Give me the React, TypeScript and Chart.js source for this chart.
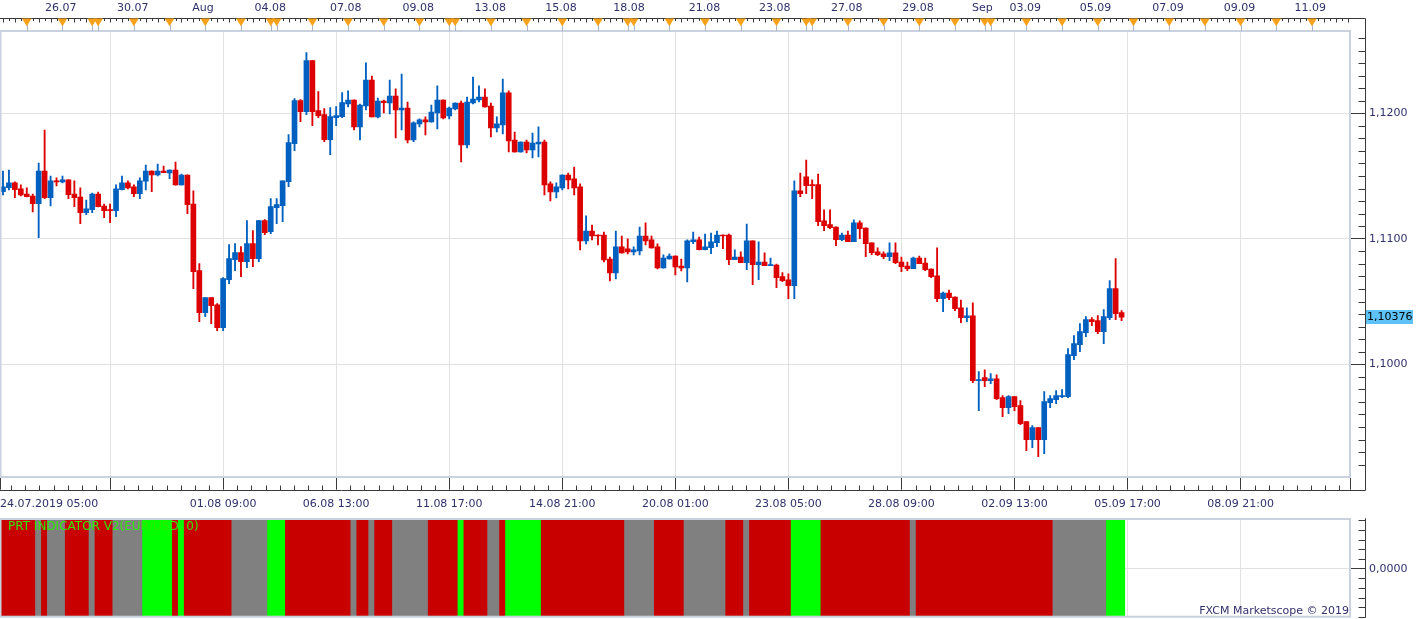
import React, { useEffect, useRef } from 'react';
import { Chart, registerables } from 'chart.js';

Chart.register(...registerables);
const FONT = "'DejaVu Sans', Verdana, sans-serif";
Chart.defaults.font.family = FONT;

// ---------- DATA (EUR/USD, 4h candles from 24.07.2019 05:00) ----------
const opens = [
  1.11376, 1.11408, 1.11445, 1.11397, 1.11357, 1.11341, 1.11280, 1.11540, 1.11328, 1.11461,
  1.11453, 1.11469, 1.11357, 1.11333, 1.11208, 1.11232, 1.11357, 1.11261, 1.11230, 1.11224,
  1.11392, 1.11445, 1.11413, 1.11360, 1.11458, 1.11540, 1.11508, 1.11540, 1.11524, 1.11548,
  1.11429, 1.11508, 1.11277, 1.10746, 1.10412, 1.10531, 1.10473, 1.10292, 1.10674, 1.10834,
  1.10890, 1.10818, 1.10961, 1.10842, 1.11145, 1.11057, 1.11248, 1.11264, 1.11455, 1.11758,
  1.12101, 1.12013, 1.12419, 1.12021, 1.11989, 1.11790, 1.11965, 1.11973, 1.12074, 1.12106,
  1.11891, 1.12058, 1.12265, 1.11971, 1.12098, 1.12082, 1.12138, 1.12026, 1.12042, 1.11787,
  1.11915, 1.11947, 1.11931, 1.12002, 1.12106, 1.11979, 1.12034, 1.12082, 1.11748, 1.12082,
  1.12106, 1.12130, 1.12058, 1.11883, 1.11907, 1.12162, 1.11787, 1.11692, 1.11771, 1.11708,
  1.11755, 1.11771, 1.11437, 1.11373, 1.11405, 1.11508, 1.11477, 1.11413, 1.10983, 1.11062,
  1.11030, 1.11030, 1.10839, 1.10728, 1.10935, 1.10919, 1.10895, 1.10903, 1.11022, 1.10991,
  1.10935, 1.10767, 1.10839, 1.10863, 1.10783, 1.10767, 1.10977, 1.10991, 1.10913, 1.10929,
  1.10969, 1.11030, 1.11030, 1.10834, 1.10855, 1.10810, 1.10983, 1.10794, 1.10815, 1.10786,
  1.10791, 1.10698, 1.10672, 1.10627, 1.11381, 1.11493, 1.11431, 1.11431, 1.11142, 1.11113,
  1.11094, 1.10993, 1.11030, 1.10977, 1.11126, 1.11086, 1.10967, 1.10895, 1.10879, 1.10858,
  1.10887, 1.10815, 1.10783, 1.10762, 1.10847, 1.10807, 1.10759, 1.10704, 1.10523, 1.10568,
  1.10536, 1.10449, 1.10372, 1.10385, 1.09870, 1.09894, 1.09870, 1.09883, 1.09734, 1.09655,
  1.09742, 1.09671, 1.09543, 1.09400, 1.09495, 1.09400, 1.09694, 1.09718, 1.09742, 1.09742,
  1.10069, 1.10157, 1.10252, 1.10356, 1.10348, 1.10260, 1.10372, 1.10603, 1.10412,
];
const highs = [
  1.11540, 1.11548, 1.11453, 1.11429, 1.11405, 1.11357, 1.11604, 1.11867, 1.11500, 1.11485,
  1.11500, 1.11470, 1.11461, 1.11405, 1.11309, 1.11365, 1.11373, 1.11277, 1.11277, 1.11429,
  1.11500, 1.11461, 1.11429, 1.11485, 1.11588, 1.11541, 1.11596, 1.11580, 1.11549, 1.11612,
  1.11516, 1.11509, 1.11381, 1.10802, 1.10532, 1.10532, 1.10483, 1.10690, 1.10953, 1.10961,
  1.10937, 1.11145, 1.11065, 1.11146, 1.11153, 1.11320, 1.11320, 1.11462, 1.11830, 1.12117,
  1.12109, 1.12483, 1.12420, 1.12172, 1.12037, 1.12045, 1.12053, 1.12165, 1.12178, 1.12107,
  1.12074, 1.12401, 1.12297, 1.12122, 1.12106, 1.12265, 1.12194, 1.12313, 1.12090, 1.11931,
  1.11955, 1.11971, 1.12066, 1.12218, 1.12107, 1.12050, 1.12083, 1.12098, 1.12130, 1.12289,
  1.12218, 1.12194, 1.12082, 1.11971, 1.12273, 1.12178, 1.11851, 1.11772, 1.11787, 1.11843,
  1.11891, 1.11787, 1.11453, 1.11445, 1.11509, 1.11524, 1.11572, 1.11437, 1.11182, 1.11110,
  1.11031, 1.11054, 1.10855, 1.11062, 1.11022, 1.10999, 1.10935, 1.11094, 1.11126, 1.11022,
  1.10959, 1.10871, 1.10879, 1.10864, 1.10839, 1.10991, 1.11054, 1.11014, 1.11038, 1.11046,
  1.11062, 1.11031, 1.11038, 1.10911, 1.10895, 1.11118, 1.10984, 1.10975, 1.10887, 1.10847,
  1.10799, 1.10730, 1.10720, 1.11461, 1.11524, 1.11628, 1.11469, 1.11516, 1.11230, 1.11230,
  1.11095, 1.11046, 1.11062, 1.11150, 1.11142, 1.11087, 1.10968, 1.10927, 1.10895, 1.10967,
  1.10967, 1.10855, 1.10815, 1.10855, 1.10863, 1.10847, 1.10760, 1.10927, 1.10576, 1.10592,
  1.10537, 1.10512, 1.10449, 1.10489, 1.09941, 1.09955, 1.09925, 1.09915, 1.09750, 1.09750,
  1.09743, 1.09710, 1.09544, 1.09511, 1.09496, 1.09782, 1.09750, 1.09790, 1.09798, 1.10125,
  1.10228, 1.10324, 1.10380, 1.10372, 1.10388, 1.10435, 1.10667, 1.10842, 1.10427,
];
const lows = [
  1.11349, 1.11389, 1.11328, 1.11341, 1.11334, 1.11214, 1.11009, 1.11320, 1.11261, 1.11421,
  1.11445, 1.11320, 1.11256, 1.11121, 1.11192, 1.11208, 1.11254, 1.11168, 1.11129, 1.11176,
  1.11390, 1.11397, 1.11336, 1.11320, 1.11389, 1.11376, 1.11500, 1.11526, 1.11479, 1.11428,
  1.11428, 1.11200, 1.10603, 1.10340, 1.10380, 1.10324, 1.10268, 1.10268, 1.10643, 1.10746,
  1.10698, 1.10770, 1.10778, 1.10818, 1.11033, 1.11041, 1.11121, 1.11137, 1.11416, 1.11702,
  1.11933, 1.11989, 1.11902, 1.11965, 1.11774, 1.11670, 1.11902, 1.11965, 1.12050, 1.11867,
  1.11787, 1.12026, 1.11970, 1.11962, 1.12002, 1.11994, 1.11803, 1.11867, 1.11763, 1.11774,
  1.11891, 1.11827, 1.11930, 1.11875, 1.11955, 1.11955, 1.12026, 1.11612, 1.11724, 1.12074,
  1.12090, 1.12049, 1.11811, 1.11851, 1.11835, 1.11692, 1.11691, 1.11691, 1.11684, 1.11644,
  1.11652, 1.11349, 1.11301, 1.11325, 1.11389, 1.11397, 1.11349, 1.10911, 1.10959, 1.10991,
  1.10951, 1.10815, 1.10664, 1.10680, 1.10886, 1.10879, 1.10871, 1.10871, 1.10951, 1.10926,
  1.10759, 1.10766, 1.10838, 1.10712, 1.10744, 1.10656, 1.10961, 1.10912, 1.10912, 1.10882,
  1.10937, 1.10921, 1.10794, 1.10833, 1.10809, 1.10754, 1.10635, 1.10674, 1.10785, 1.10785,
  1.10611, 1.10659, 1.10523, 1.10523, 1.11336, 1.11360, 1.11320, 1.11105, 1.11065, 1.11081,
  1.10945, 1.10985, 1.10976, 1.10976, 1.11001, 1.10858, 1.10874, 1.10866, 1.10842, 1.10826,
  1.10802, 1.10738, 1.10746, 1.10761, 1.10801, 1.10746, 1.10690, 1.10499, 1.10420, 1.10515,
  1.10427, 1.10332, 1.10340, 1.09854, 1.09631, 1.09822, 1.09846, 1.09718, 1.09583, 1.09607,
  1.09631, 1.09519, 1.09312, 1.09336, 1.09264, 1.09288, 1.09655, 1.09686, 1.09734, 1.09734,
  1.10037, 1.10101, 1.10220, 1.10308, 1.10244, 1.10165, 1.10356, 1.10356, 1.10348,
];
const closes = [
  1.11413, 1.11445, 1.11392, 1.11349, 1.11336, 1.11280, 1.11540, 1.11328, 1.11461, 1.11453,
  1.11469, 1.11352, 1.11328, 1.11208, 1.11238, 1.11357, 1.11256, 1.11224, 1.11224, 1.11397,
  1.11445, 1.11405, 1.11360, 1.11461, 1.11540, 1.11508, 1.11540, 1.11527, 1.11548, 1.11429,
  1.11508, 1.11272, 1.10738, 1.10412, 1.10531, 1.10467, 1.10292, 1.10682, 1.10842, 1.10890,
  1.10818, 1.10961, 1.10842, 1.11145, 1.11049, 1.11256, 1.11272, 1.11461, 1.11766, 1.12101,
  1.12013, 1.12419, 1.12013, 1.11981, 1.11790, 1.11973, 1.11981, 1.12085, 1.12106, 1.11891,
  1.12066, 1.12265, 1.11971, 1.12098, 1.12085, 1.12138, 1.12026, 1.12042, 1.11787, 1.11923,
  1.11947, 1.11931, 1.12010, 1.12106, 1.11962, 1.12042, 1.12082, 1.11748, 1.12090, 1.12114,
  1.12130, 1.12050, 1.11883, 1.11915, 1.12162, 1.11779, 1.11692, 1.11771, 1.11708, 1.11763,
  1.11771, 1.11429, 1.11373, 1.11413, 1.11508, 1.11469, 1.11405, 1.10983, 1.11062, 1.11022,
  1.11022, 1.10831, 1.10728, 1.10935, 1.10887, 1.10895, 1.10911, 1.11022, 1.10983, 1.10927,
  1.10767, 1.10847, 1.10863, 1.10775, 1.10767, 1.10983, 1.10991, 1.10913, 1.10935, 1.10975,
  1.11030, 1.11022, 1.10834, 1.10855, 1.10810, 1.10983, 1.10794, 1.10815, 1.10786, 1.10791,
  1.10690, 1.10667, 1.10627, 1.11381, 1.11360, 1.11423, 1.11423, 1.11137, 1.11105, 1.11089,
  1.10993, 1.11030, 1.10977, 1.11126, 1.11081, 1.10961, 1.10890, 1.10874, 1.10858, 1.10887,
  1.10810, 1.10778, 1.10762, 1.10847, 1.10802, 1.10754, 1.10698, 1.10523, 1.10568, 1.10531,
  1.10443, 1.10372, 1.10385, 1.09870, 1.09878, 1.09870, 1.09883, 1.09726, 1.09655, 1.09742,
  1.09663, 1.09527, 1.09400, 1.09495, 1.09400, 1.09702, 1.09726, 1.09750, 1.09750, 1.10077,
  1.10165, 1.10260, 1.10356, 1.10340, 1.10260, 1.10380, 1.10603, 1.10404, 1.10376,
];

// PRT indicator state per bar, as runs [state, bar count]: -1 sell (red), 0 neutral (gray), 1 buy (green)
const signalRuns = [
  [-1, 6], [0, 1], [-1, 1], [0, 3], [-1, 4], [0, 1], [-1, 3], [0, 5], [1, 5], [-1, 1],
  [1, 1], [-1, 8], [0, 6], [1, 3], [-1, 11], [0, 1], [-1, 2], [0, 1], [-1, 3], [0, 6],
  [-1, 5], [1, 1], [-1, 4], [0, 2], [-1, 1], [1, 6], [-1, 14], [0, 5], [-1, 5], [0, 7],
  [-1, 3], [0, 1], [-1, 7], [1, 5], [-1, 15], [0, 1], [-1, 23], [0, 9], [1, 3],
];

const bottomTickBars = [-0.5, 18, 37, 56, 75, 94, 113, 132, 151, 170, 189, 208, 226.39];
const bottomTickLabels = ['24.07.2019 05:00', '', '01.08 09:00', '06.08 13:00', '11.08 17:00', '14.08 21:00',
  '20.08 01:00', '23.08 05:00', '28.08 09:00', '02.09 13:00', '05.09 17:00', '08.09 21:00', ''];
const gridBars = [18, 37, 56, 75, 94, 113, 132, 151, 170, 189, 208];

const topLabelBars = [9.7, 21.8, 33.6, 44.9, 57.6, 69.8, 81.9, 93.8, 105.2, 117.9, 129.7, 141.8, 153.8,
  164.6, 171.8, 183.6, 195.8, 207.8, 219.7];
const topLabels = ['26.07', '30.07', 'Aug', '04.08', '07.08', '09.08', '13.08', '15.08', '18.08', '21.08',
  '23.08', '27.08', '29.08', 'Sep', '03.09', '05.09', '07.09', '09.09', '11.09'];

const eventBars = [4, 10, 15, 16, 22, 28, 34, 40, 45, 46, 52, 58, 64, 70, 75, 76, 82, 88, 94, 100, 105, 106,
  112, 118, 124, 130, 135, 136, 142, 148, 154, 160, 165, 166, 172, 178, 184, 190, 196, 202, 208, 214, 220];

const priceTicks = [1.1, 1.11, 1.12];
const indicatorTicks = [0];
const indicatorName = 'PRT INDICATOR V2(EUR/USD, 0)';
const copyright = 'FXCM Marketscope \u00A9 2019';

// ---------- STYLE ----------
const XMIN = -0.5;
const XMAX = 226.39;
const YMIN = 1.09104;
const YMAX = 1.12658;
const UP = '#0060c0';
const DOWN = '#dc0000';
const SIG_COLORS: Record<string, string> = { '-1': '#c80000', '0': '#808080', '1': '#00ff00' };
const GRID = '#e1e1e1';
const BORDER = '#c9d2de';
const AXIS = '#3a3a3a';
const TEXT = '#30306c';
const ORANGE = '#f7a11a';

const signal: number[] = [];
signalRuns.forEach(([v, n]) => { for (let k = 0; k < n; k++) signal.push(v); });

const fmt = (v: number, d: number) => v.toFixed(d).replace('.', ',');
const line = (ctx: CanvasRenderingContext2D, x1: number, y1: number, x2: number, y2: number) => {
  ctx.beginPath(); ctx.moveTo(x1, y1); ctx.lineTo(x2, y2); ctx.stroke();
};
const noPad = (s: any) => { s.paddingLeft = 0; s.paddingRight = 0; s.paddingTop = 0; s.paddingBottom = 0; };

const mainDecor = {
  id: 'mainDecor',
  afterDraw(chart: any) {
    const { ctx, chartArea: a } = chart;
    const xs = chart.scales.x, ys = chart.scales.y;
    const axisX = Math.round(a.right + 15) + 0.5;
    const rulerY = 18.5;
    const baseY = Math.round(a.bottom + 13) + 0.5;
    ctx.save();
    // frame
    ctx.strokeStyle = BORDER; ctx.lineWidth = 2;
    ctx.strokeRect(0.5, a.top + 0.3, a.right - 0.5, a.bottom - a.top);
    // top ruler
    ctx.strokeStyle = AXIS; ctx.lineWidth = 1;
    line(ctx, 0, rulerY, axisX, rulerY);
    for (let i = 0; i <= Math.floor(XMAX); i++) {
      const px = Math.round(xs.getPixelForValue(i)) + 0.5;
      line(ctx, px, rulerY, px, rulerY + (i % 2 === 0 ? 4 : 2.5));
    }
    for (const b of eventBars) {
      const px = xs.getPixelForValue(b);
      const sx = Math.round(px) + 0.5;
      ctx.strokeStyle = '#a9b5c6';
      line(ctx, sx, 25, sx, 31);
      ctx.fillStyle = ORANGE;
      ctx.beginPath(); ctx.moveTo(px - 4.8, 18.5); ctx.lineTo(px + 4.8, 18.5); ctx.lineTo(px, 26.2); ctx.closePath(); ctx.fill();
    }
    // bottom ruler
    ctx.strokeStyle = AXIS;
    line(ctx, 0, baseY, axisX, baseY);
    const step = 19 / 8;
    for (let k = -16; k <= 100; k++) {
      if (k % 8 === 0) continue;
      const v = 18 + k * step;
      if (v < XMIN || v > XMAX) continue;
      const px = Math.round(xs.getPixelForValue(v)) + 0.5;
      line(ctx, px, baseY - 5, px, baseY);
    }
    // right axis
    line(ctx, axisX, rulerY, axisX, baseY);
    for (let k = 1091; k <= 1126; k++) {
      if (k % 10 === 0) continue;
      const py = Math.round(ys.getPixelForValue(k / 1000)) + 0.5;
      if (py < a.top || py > a.bottom) continue;
      line(ctx, axisX - 7, py, axisX, py);
    }
    // last price marker
    const last = closes[closes.length - 1];
    const py = ys.getPixelForValue(last);
    ctx.fillStyle = '#5cc2f7';
    ctx.fillRect(axisX + 0.5, Math.round(py) - 7, 47, 14);
    ctx.fillStyle = '#000';
    ctx.font = `11px ${FONT}`;
    ctx.textAlign = 'left'; ctx.textBaseline = 'middle';
    ctx.fillText(fmt(last, 5), axisX + 1.5, py);
    ctx.restore();
  },
};

const indDecor = {
  id: 'indDecor',
  afterDraw(chart: any) {
    const { ctx, chartArea: a } = chart;
    const ys = chart.scales.y;
    const axisX = Math.round(a.right + 15) + 0.5;
    ctx.save();
    ctx.strokeStyle = BORDER; ctx.lineWidth = 2;
    ctx.strokeRect(0.5, a.top + 0.7, a.right - 0.5, a.bottom - a.top - 0.7);
    ctx.strokeStyle = AXIS; ctx.lineWidth = 1;
    line(ctx, axisX, a.top, axisX, a.bottom + 1);
    for (let v = -5; v <= 5; v++) {
      if (v === 0) continue;
      const py = Math.round(ys.getPixelForValue(v)) + 0.5;
      line(ctx, axisX - 7, py, axisX, py);
    }
    ctx.textBaseline = 'middle';
    ctx.textAlign = 'left';
    ctx.fillStyle = '#2eea00';
    ctx.font = `12px ${FONT}`;
    ctx.fillText(indicatorName, 8, a.top + 8.4);
    ctx.textAlign = 'right';
    ctx.fillStyle = TEXT;
    ctx.font = `11px ${FONT}`;
    ctx.fillText(copyright, a.right - 1, a.bottom - 6);
    ctx.restore();
  },
};

function mainConfig(): any {
  const colors = opens.map((o, i) => (closes[i] >= o ? UP : DOWN));
  const axisFont = { family: FONT, size: 11 };
  return {
    type: 'bar',
    data: {
      datasets: [
        {
          label: 'body',
          data: opens.map((o, i) => ({ x: i, y: [o, closes[i]] })),
          backgroundColor: colors,
          barThickness: 5,
          minBarLength: 1,
          grouped: false,
          order: 0,
          xAxisID: 'x', yAxisID: 'y',
        },
        {
          label: 'wick',
          data: lows.map((l, i) => ({ x: i, y: [l, highs[i]] })),
          backgroundColor: colors,
          barThickness: 1.2,
          minBarLength: 1,
          grouped: false,
          order: 1,
          xAxisID: 'x', yAxisID: 'y',
        },
      ],
    },
    options: {
      animation: false,
      responsive: false,
      maintainAspectRatio: false,
      events: [],
      layout: { padding: 0, autoPadding: false },
      plugins: { legend: { display: false }, tooltip: { enabled: false }, title: { display: false } },
      scales: {
        x: {
          type: 'linear', axis: 'x', position: 'bottom', min: XMIN, max: XMAX, offset: false,
          afterFit: (s: any) => { s.height = 35.3; noPad(s); },
          afterBuildTicks: (s: any) => { s.ticks = bottomTickBars.map((v) => ({ value: v })); },
          grid: { color: GRID, tickColor: AXIS, tickLength: 13, drawTicks: true, offset: false, lineWidth: 1 },
          border: { display: false },
          ticks: {
            autoSkip: false, maxRotation: 0, minRotation: 0, align: 'inner', padding: 8.2,
            color: TEXT, font: axisFont,
            callback: (_v: number, idx: number) => bottomTickLabels[idx],
          },
        },
        xTop: {
          type: 'linear', axis: 'x', position: 'top', min: XMIN, max: XMAX, offset: false,
          afterFit: (s: any) => { s.height = 30.7; noPad(s); },
          afterBuildTicks: (s: any) => { s.ticks = topLabelBars.map((v) => ({ value: v })); },
          grid: { display: false, drawTicks: false },
          border: { display: false },
          ticks: {
            autoSkip: false, maxRotation: 0, minRotation: 0, padding: 15.8,
            color: TEXT, font: axisFont,
            callback: (_v: number, idx: number) => topLabels[idx],
          },
        },
        y: {
          type: 'linear', position: 'right', min: YMIN, max: YMAX, beginAtZero: false,
          afterFit: (s: any) => { s.width = 73; noPad(s); },
          afterBuildTicks: (s: any) => { s.ticks = priceTicks.map((v) => ({ value: v })); },
          grid: { color: GRID, tickColor: AXIS, tickLength: 15, drawTicks: true },
          border: { display: false },
          ticks: { padding: 4, color: TEXT, font: axisFont, callback: (v: number) => fmt(v, 4) },
        },
      },
    },
    plugins: [mainDecor],
  };
}

function indConfig(): any {
  const axisFont = { family: FONT, size: 11 };
  return {
    type: 'bar',
    data: {
      datasets: [
        {
          label: 'PRT',
          data: signal.map((_s, i) => ({ x: i, y: [-6, 6] })),
          backgroundColor: signal.map((s) => SIG_COLORS[String(s)]),
          barThickness: 6.4,
          grouped: false,
        },
      ],
    },
    options: {
      animation: false,
      responsive: false,
      maintainAspectRatio: false,
      events: [],
      layout: { padding: { top: 6.3, left: 0, right: 0, bottom: 0 }, autoPadding: false },
      plugins: { legend: { display: false }, tooltip: { enabled: false }, title: { display: false } },
      scales: {
        x: {
          type: 'linear', position: 'bottom', min: XMIN, max: XMAX, offset: false,
          afterFit: (s: any) => { s.height = 2.3; noPad(s); },
          afterBuildTicks: (s: any) => { s.ticks = gridBars.map((v) => ({ value: v })); },
          grid: { color: GRID, drawTicks: false, offset: false },
          border: { display: false },
          ticks: { display: false },
        },
        y: {
          type: 'linear', position: 'right', min: -4.96, max: 5.22, beginAtZero: false,
          afterFit: (s: any) => { s.width = 73; noPad(s); },
          afterBuildTicks: (s: any) => { s.ticks = indicatorTicks.map((v) => ({ value: v })); },
          grid: { color: GRID, tickColor: AXIS, tickLength: 15, drawTicks: true },
          border: { display: false },
          ticks: { padding: 4, color: TEXT, font: axisFont, callback: (v: number) => fmt(v, 4) },
        },
      },
    },
    plugins: [indDecor],
  };
}

export default function App() {
  const mainRef = useRef<HTMLCanvasElement>(null);
  const indRef = useRef<HTMLCanvasElement>(null);
  useEffect(() => {
    const c1 = new Chart(mainRef.current as HTMLCanvasElement, mainConfig());
    const c2 = new Chart(indRef.current as HTMLCanvasElement, indConfig());
    return () => { c1.destroy(); c2.destroy(); };
  }, []);
  return (
    <div style={{ position: 'fixed', left: 0, top: 0, width: 1423, height: 619, background: '#fff', overflow: 'hidden' }}>
      <canvas ref={mainRef} width={1423} height={512}
        style={{ position: 'absolute', left: 0, top: 0, width: 1423, height: 512 }} />
      <canvas ref={indRef} width={1423} height={107}
        style={{ position: 'absolute', left: 0, top: 512, width: 1423, height: 107 }} />
    </div>
  );
}
